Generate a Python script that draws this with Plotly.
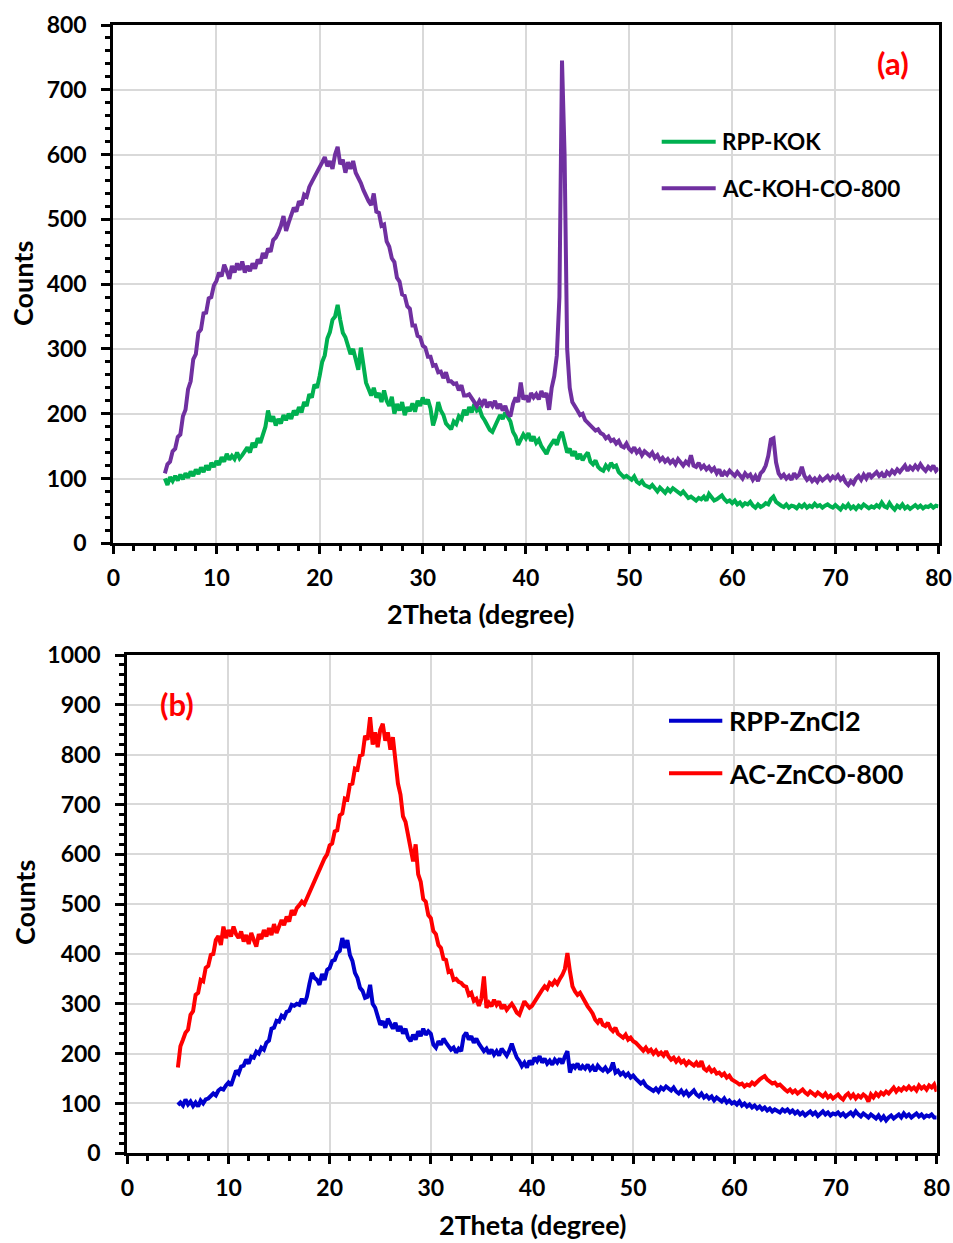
import numpy as np
import plotly.graph_objects as go

# 2-theta scan grid (degrees)
two_theta_start = 5.0
two_theta_step = 0.25

# Panel (a): KOH series
rpp_kok = [
    100, 90, 102, 96, 104, 97, 106, 99, 108, 101, 111, 104, 114, 107, 117, 110, 120, 113, 124, 118,
    127, 121, 133, 126, 138, 129, 135, 130, 140, 131, 136, 142, 148, 140, 155, 148, 162, 155, 170, 180,
    205, 188, 196, 182, 192, 185, 198, 190, 200, 192, 205, 198, 210, 202, 218, 212, 230, 225, 245, 240,
    258, 280, 290, 316, 326, 345, 350, 368, 345, 325, 318, 305, 292, 300, 282, 268, 302, 275, 248, 238,
    228, 240, 225, 232, 218, 236, 220, 212, 226, 200, 215, 205, 218, 198, 210, 204, 216, 203, 220, 212,
    225, 215, 222, 208, 182, 195, 218, 205, 198, 185, 180, 176, 188, 184, 196, 192, 206, 198, 210, 202,
    215, 205, 208, 196, 190, 182, 175, 172, 180, 188, 198, 192, 202, 195, 188, 172, 165, 152, 160, 168,
    162, 170, 158, 165, 155, 160, 150, 143, 138, 148, 155, 160, 152, 165, 172, 158, 140, 146, 135, 142,
    130, 138, 128, 135, 140, 126, 122, 128, 118, 114, 112, 120, 115, 124, 118, 120, 110, 106, 102, 104,
    100, 98, 103, 95, 92, 96, 90, 88, 86, 90, 84, 80, 86, 82, 78, 84, 80, 85, 82, 78,
    76, 80, 74, 70, 72, 68, 66, 70, 68, 72, 66, 76, 70, 66, 68, 72, 74, 68, 64, 66,
    62, 66, 60, 63, 58, 62, 60, 64, 58, 55, 60, 56, 58, 62, 60, 68, 72, 64, 60, 58,
    56, 60, 55, 58, 57, 54, 59, 56, 60, 55, 58, 56, 61, 57, 59, 55, 58, 60, 57, 55,
    59, 56, 52, 58, 55, 60, 54, 57, 53, 58, 55, 60, 56, 54, 57, 55, 59, 56, 63, 57,
    55, 62, 56, 52, 58, 55, 60, 54, 57, 53, 56, 59, 55, 58, 54, 57, 56, 59, 55, 58,
    57,
]
ac_koh_co_800 = [
    108, 122, 126, 142, 146, 164, 168, 196, 206, 238, 250, 284, 292, 325, 330, 355, 356, 378, 380, 398,
    405, 418, 412, 430, 420, 408, 428, 418, 432, 422, 435, 418, 428, 420, 432, 424, 438, 432, 448, 440,
    455, 450, 468, 472, 480, 490, 505, 482, 495, 508, 518, 512, 528, 522, 538, 535, 550, 558, 565, 572,
    578, 588, 596, 582, 590, 578, 600, 612, 585, 592, 572, 588, 578, 590, 572, 565, 556, 545, 535, 528,
    522, 540, 512, 510, 490, 492, 466, 458, 440, 434, 410, 404, 384, 382, 366, 362, 336, 336, 320, 318,
    305, 302, 288, 288, 274, 275, 264, 265, 255, 264, 250, 250, 246, 247, 236, 244, 228, 228, 230, 224,
    218, 212, 220, 214, 222, 210, 218, 212, 220, 208, 215, 205, 212, 200, 196, 215, 225, 218, 248, 222,
    228, 218, 232, 225, 230, 222, 235, 226, 232, 206, 240, 258, 290, 380, 745, 600, 300, 240, 218, 210,
    205, 198, 200, 190, 186, 182, 178, 174, 176, 170, 168, 162, 165, 158, 160, 154, 158, 150, 148, 154,
    146, 142, 148, 140, 144, 136, 142, 138, 135, 140, 132, 136, 128, 132, 126, 130, 124, 128, 122, 130,
    125, 120, 126, 122, 136, 120, 118, 124, 116, 120, 114, 118, 112, 116, 108, 114, 104, 110, 106, 112,
    108, 104, 110, 105, 100, 108, 103, 106, 98, 104, 96, 108, 112, 120, 135, 160, 162, 125, 108, 102,
    106, 100, 104, 98, 108, 102, 106, 118, 104, 98, 102, 96, 100, 95, 102, 97, 100, 104, 98, 103,
    100, 105, 98, 102, 94, 90, 96, 92, 100, 104, 98, 106, 100, 108, 102, 106, 110, 104, 108, 102,
    110, 106, 112, 108, 114, 110, 116, 120, 112, 118, 114, 120, 115, 122, 116, 112, 118, 114, 120, 112,
    116,
]

# Panel (b): ZnCl2 series
rpp_zncl2 = [
    97, 102, 96, 108, 98, 104, 95, 102, 94, 106, 100, 108, 110, 116, 120, 116, 126, 130, 128, 136,
    142, 136, 154, 166, 160, 174, 176, 188, 180, 194, 192, 204, 200, 212, 208, 222, 226, 250, 252, 266,
    264, 276, 272, 284, 286, 298, 296, 300, 298, 310, 300, 314, 340, 362, 352, 348, 338, 360, 348, 368,
    372, 386, 388, 402, 406, 432, 412, 428, 398, 386, 362, 352, 332, 326, 312, 314, 338, 300, 292, 275,
    258, 265, 252, 270, 258, 250, 262, 245, 255, 240, 250, 232, 225, 238, 228, 245, 235, 250, 238, 245,
    240, 218, 212, 225, 218, 230, 222, 215, 208, 212, 202, 210, 205, 235, 242, 228, 235, 222, 230, 220,
    212, 205, 210, 200, 208, 198, 205, 196, 210, 202, 196, 206, 220, 205, 192, 185, 175, 182, 172, 186,
    178, 192, 185, 195, 182, 190, 180, 186, 178, 188, 182, 190, 180, 194, 205, 162, 178, 172, 180, 168,
    175, 170, 178, 168, 174, 165, 176, 170, 166, 172, 164, 168, 182, 162, 166, 158, 162, 155, 160, 152,
    156, 150, 146, 140, 144, 136, 132, 128, 125, 130, 124, 132, 128, 134, 130, 126, 132, 124, 120, 126,
    118, 124, 116, 122, 126, 118, 114, 120, 112, 116, 110, 114, 106, 112, 108, 104, 110, 102, 106, 100,
    103, 98, 104, 96, 100, 94, 98, 92, 96, 90, 94, 88, 92, 86, 90, 84, 88, 85, 82, 88,
    84, 88, 82, 86, 80, 84, 78, 82, 76, 80, 84, 78, 82, 75, 80, 84, 78, 82, 76, 80,
    78, 82, 76, 80, 74, 78, 82, 76, 84, 78, 74, 80, 76, 72, 78, 74, 70, 76, 68, 74,
    66, 72, 76, 70, 74, 78, 72, 80, 74, 78, 72, 76, 80, 74, 78, 72, 76, 74, 78, 72,
    72,
]
ac_znco_800 = [
    172, 215, 228, 242, 248, 278, 285, 318, 322, 348, 345, 372, 376, 398, 400, 428, 436, 418, 455, 432,
    448, 435, 455, 440, 432, 445, 425, 438, 420, 442, 428, 415, 440, 430, 448, 435, 452, 438, 460, 442,
    455, 468, 458, 475, 465, 488, 478, 492, 498, 505, 500, 512, 522, 535, 548, 555, 570, 580, 592, 600,
    618, 622, 646, 648, 678, 682, 712, 710, 740, 742, 772, 770, 798, 800, 838, 830, 875, 820, 845, 815,
    850, 862, 828, 845, 810, 835, 785, 742, 720, 676, 665, 636, 612, 586, 620, 560, 545, 510, 505, 478,
    472, 446, 440, 418, 412, 390, 388, 364, 366, 348, 350, 344, 342, 336, 334, 318, 322, 306, 310, 296,
    310, 355, 292, 302, 295, 308, 298, 305, 290, 298, 288, 295, 300, 292, 282, 278, 290, 305, 298, 292,
    296, 305, 312, 320, 328, 335, 330, 342, 338, 346, 340, 350, 358, 370, 402, 365, 335, 325, 318, 322,
    312, 305, 295, 288, 280, 268, 262, 270, 258, 255, 262, 250, 245, 252, 240, 236, 232, 238, 228, 232,
    225, 222, 216, 210, 206, 212, 204, 208, 200, 206, 198, 202, 196, 205, 194, 188, 192, 184, 190, 182,
    186, 178, 184, 180, 176, 182, 174, 185, 170, 166, 172, 164, 168, 160, 162, 156, 160, 152, 156, 148,
    146, 142, 138, 140, 134, 138, 136, 142, 138, 144, 148, 152, 155, 148, 144, 140, 142, 136, 138, 132,
    128, 124, 128, 122, 126, 120, 124, 128, 122, 118, 124, 120, 116, 122, 118, 114, 120, 112, 116, 110,
    114, 118, 112, 108, 116, 120, 112, 118, 110, 116, 112, 118, 114, 104, 118, 112, 120, 115, 122, 118,
    124, 120, 126, 132, 124, 130, 126, 132, 128, 134, 128, 132, 126, 136, 130, 134, 128, 136, 132, 138,
    124,
]

series_names_a = ["RPP-KOK", "AC-KOH-CO-800"]
series_names_b = ["RPP-ZnCl2", "AC-ZnCO-800"]
panel_labels = ["(a)", "(b)"]
x_axis_title = "2Theta (degree)"
y_axis_title = "Counts"
x_tick_values = [0, 10, 20, 30, 40, 50, 60, 70, 80]
y_tick_values_a = [0, 100, 200, 300, 400, 500, 600, 700, 800]
y_tick_values_b = [0, 100, 200, 300, 400, 500, 600, 700, 800, 900, 1000]

colors_a = ["#00B050", "#7030A0"]
colors_b = ["#0000CD", "#FF0000"]

W, H = 953, 1243
FONT = "Lato, 'Open Sans', sans-serif"


def grid(values):
    return two_theta_start + two_theta_step * np.arange(len(values))


def px(x):
    return x / W


def py(y):
    return 1 - y / H


fig = go.Figure()

for name, vals, col in zip(series_names_a, [rpp_kok, ac_koh_co_800], colors_a):
    fig.add_trace(go.Scatter(x=grid(vals), y=vals, mode="lines", name=name,
                             line=dict(color=col, width=4), xaxis="x", yaxis="y",
                             showlegend=False))
for name, vals, col in zip(series_names_b, [rpp_zncl2, ac_znco_800], colors_b):
    fig.add_trace(go.Scatter(x=grid(vals), y=vals, mode="lines", name=name,
                             line=dict(color=col, width=4), xaxis="x2", yaxis="y2",
                             showlegend=False))

tick_font = dict(family=FONT, size=23, color="black", weight="bold")


def x_axis(domain, anchor):
    return dict(domain=domain, anchor=anchor, range=[0, 80], tickvals=x_tick_values,
                showline=True, mirror=True, linecolor="black", linewidth=3,
                ticks="outside", ticklen=8, tickwidth=2.5, tickcolor="black",
                minor=dict(dtick=2, ticks="outside", ticklen=5, tickwidth=2.5,
                           tickcolor="black", showgrid=False),
                showgrid=True, gridcolor="#D9D9D9", gridwidth=1.5,
                zeroline=False, tickfont=tick_font, ticklabelstandoff=4,
                automargin=False)


def y_axis(domain, anchor, rng, tickvals):
    return dict(domain=domain, anchor=anchor, range=rng, tickvals=tickvals,
                showline=True, mirror=True, linecolor="black", linewidth=3,
                ticks="outside", ticklen=9, tickwidth=2.5, tickcolor="black",
                minor=dict(dtick=20, ticks="outside", ticklen=5, tickwidth=2.5,
                           tickcolor="black", showgrid=False),
                showgrid=True, gridcolor="#D9D9D9", gridwidth=1.5,
                zeroline=False, tickfont=tick_font, ticklabelstandoff=10,
                automargin=False)


fig.update_layout(
    width=W, height=H,
    margin=dict(l=0, r=0, t=0, b=0),
    paper_bgcolor="white", plot_bgcolor="white",
    font=dict(family=FONT, color="black", weight="bold"),
    xaxis=x_axis([px(113.3), px(938.5)], "y"),
    yaxis=y_axis([py(543.3), py(25)], "x", [0, 800], y_tick_values_a),
    xaxis2=x_axis([px(127.3), px(936.7)], "y2"),
    yaxis2=y_axis([py(1153.3), py(655)], "x2", [0, 1000], y_tick_values_b),
)

annotations = []
shapes = []

# axis titles
for cx, cy in [(480.5, 613), (532, 1224)]:
    annotations.append(dict(x=px(cx), y=py(cy), xref="paper", yref="paper",
                            text=x_axis_title, showarrow=False,
                            xanchor="center", yanchor="middle",
                            font=dict(family=FONT, size=27, color="black", weight="bold")))
for cx, cy in [(22, 284), (24, 903)]:
    annotations.append(dict(x=px(cx), y=py(cy), xref="paper", yref="paper",
                            text=y_axis_title, textangle=-90, showarrow=False,
                            xanchor="center", yanchor="middle",
                            font=dict(family=FONT, size=27, color="black", weight="bold")))

# panel labels
for lbl, (cx, cy) in zip(panel_labels, [(893, 63), (176.7, 704)]):
    annotations.append(dict(x=px(cx), y=py(cy), xref="paper", yref="paper",
                            text=lbl, showarrow=False, xanchor="center", yanchor="middle",
                            font=dict(family=FONT, size=31, color="#FF0000", weight="bold")))

# legends drawn as line keys plus labels
legend_specs = [
    (series_names_a, colors_a, 661.7, 715.7, 720, [141.7, 188.3], 22.5),
    (series_names_b, colors_b, 669, 722.3, 727, [720.7, 773.3], 27),
]
for names, cols, lx0, lx1, tx, ys, fsize in legend_specs:
    for name, col, yy in zip(names, cols, ys):
        shapes.append(dict(type="line", xref="paper", yref="paper",
                           x0=px(lx0), x1=px(lx1), y0=py(yy), y1=py(yy),
                           line=dict(color=col, width=4)))
        annotations.append(dict(x=px(tx), y=py(yy), xref="paper", yref="paper",
                                text=name, showarrow=False, xanchor="left", yanchor="middle",
                                font=dict(family=FONT, size=fsize, color="black", weight="bold")))

fig.update_layout(annotations=annotations, shapes=shapes)

fig.write_html("out.html")
